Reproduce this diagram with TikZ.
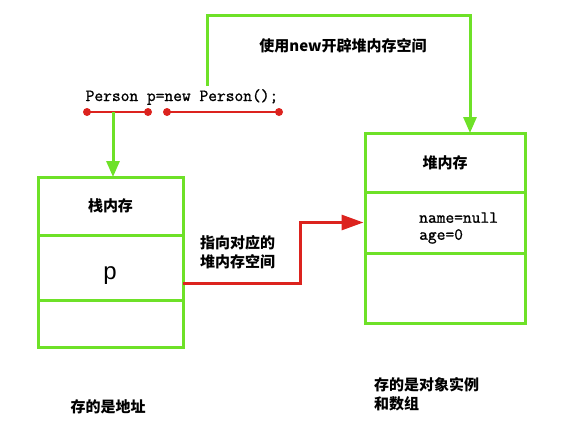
\documentclass[tikz,border=0pt]{standalone}
\usepackage{fontspec}
\setsansfont{Liberation Sans}
\newfontfamily\cjk{Noto Sans CJK SC}
\newfontfamily\codefont[FakeBold=1.2]{Latin Modern Mono}
\usetikzlibrary{positioning,arrows.meta}
\definecolor{boxgreen}{RGB}{110,225,40}
\definecolor{linkred}{RGB}{220,35,30}

\begin{document}
\begin{tikzpicture}[x=1pt, y=-1pt,
    cell/.style={draw=boxgreen, line width=3pt, outer sep=0pt, inner sep=0pt},
    greenlink/.style={draw=boxgreen, line width=3pt, -{Triangle[length=16pt,width=13pt]}},
    redlink/.style={draw=linkred, line width=3pt, -{Triangle[length=22pt,width=15pt]}},
    underline/.style={draw=linkred, line width=2pt},
    cjklabel/.style={font=\cjk\bfseries\fontsize{15}{19}\selectfont, align=left, inner sep=0pt}]
    \useasboundingbox (0,0) rectangle (582,434);

    % --- 1. 代码行和下划线 ---
    \node[font=\codefont\fontsize{17}{18}\selectfont, inner sep=0pt] (code) at (182,97) {Person p=new Person();};
    \coordinate (uLa) at (87,112);    % Person p
    \coordinate (uLb) at (148,112);
    \coordinate (uLmid) at (113,112);
    \coordinate (uRa) at (167,112);   % new Person();
    \coordinate (uRb) at (279,112);
    \draw[underline] (uLa) -- (uLb);
    \draw[underline] (uRa) -- (uRb);
    \foreach \p in {uLa,uLb,uRa,uRb}
      \fill[linkred] (\p) circle (4pt);

    % --- 2. 栈内存 ---
    \node[cell, minimum width=145pt, minimum height=58pt] (stackHead) at (110.5,206)
      {\cjk\bfseries\fontsize{15}{19}\selectfont 栈内存};
    \node[cell, minimum width=145pt, minimum height=65pt, below=0pt of stackHead] (stackP) {};
    \node[cell, minimum width=145pt, minimum height=47pt, below=0pt of stackP] (stackEmpty) {};
    \node[font=\sffamily\fontsize{24}{26}\selectfont] (pLabel) at (110,276) {p};

    % --- 3. 堆内存 ---
    \node[cell, minimum width=160pt, minimum height=59pt] (heapHead) at (445,162.5)
      {\cjk\bfseries\fontsize{15}{19}\selectfont 堆内存};
    \node[cell, minimum width=160pt, minimum height=61pt, below=0pt of heapHead] (heapData) {};
    \node[cell, minimum width=160pt, minimum height=70pt, below=0pt of heapData] (heapEmpty) {};
    \node[font=\codefont\fontsize{17}{17}\selectfont, align=left, anchor=west, inner sep=0pt]
      (heapText) at (419,228) {name=null\\age=0};

    % --- 4. 连线 ---
    \coordinate (newStart) at (207,86);
    \coordinate (topR) at (470,15);
    \draw[greenlink] (uLmid) -- (uLmid |- stackHead.north);
    \draw[greenlink] (newStart) |- (topR) -- (topR |- heapHead.north);
    \coordinate (redBend) at (300,250);
    \draw[redlink, shorten >=1.5pt] ([yshift=-16pt]stackP.east) -| (redBend) |- (heapData.west);

    % --- 5. 文字说明 ---
    \node[cjklabel] (newLabel) at (343,46) {使用new开辟堆内存空间};
    \node[cjklabel, anchor=west] (ptrLabel) at (200,252) {指向对应的\\堆内存空间};
    \node[cjklabel] (stackNote) at (108,407) {存的是地址};
    \node[cjklabel, anchor=west] (heapNote) at (374,394) {存的是对象实例\\和数组};
\end{tikzpicture}
\end{document}
